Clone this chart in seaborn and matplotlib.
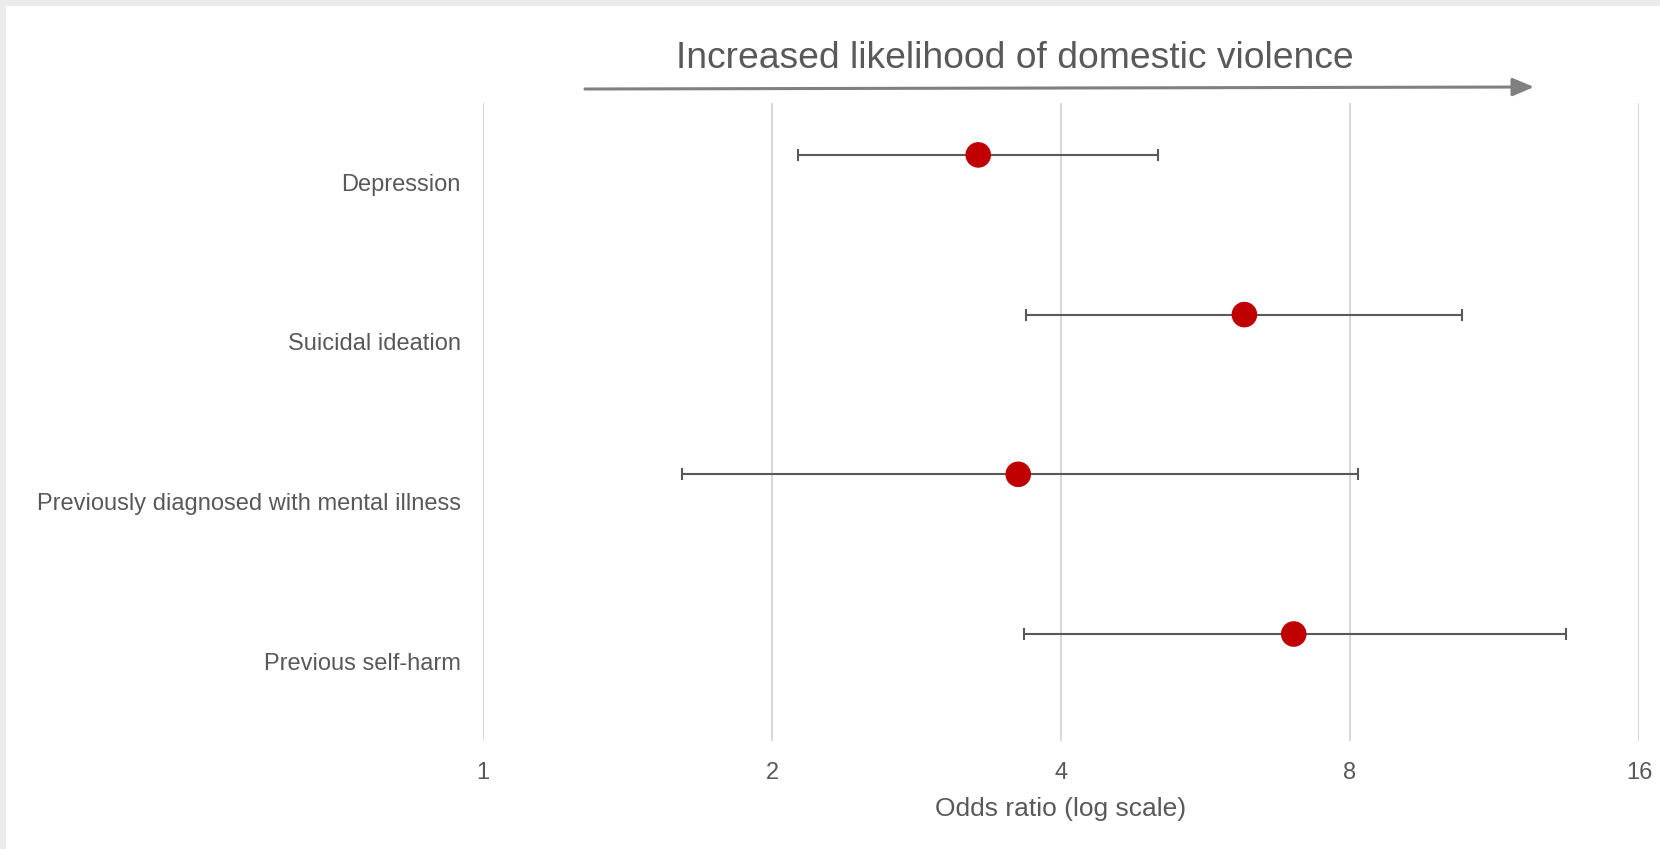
import numpy as np
import pandas as pd
import matplotlib
matplotlib.use("Agg")
import matplotlib.pyplot as plt
from matplotlib.patches import Rectangle
import seaborn as sns

# Dados
categories = ["Depression", "Suicidal ideation",
              "Previously diagnosed with mental illness", "Previous self-harm"]
odds_ratio = [3.28, 6.21, 3.61, 6.99]
ci_lower = [2.13, 3.68, 1.61, 3.66]
ci_upper = [5.05, 10.47, 8.16, 13.43]
x_ticks = [1, 2, 4, 8, 16]

df = pd.DataFrame({"category": categories, "or": odds_ratio,
                   "lo": ci_lower, "hi": ci_upper})
df["pos"] = np.arange(len(df))

sns.set_theme(style="white")
plt.rcParams["font.family"] = ["Liberation Sans", "DejaVu Sans"]
text_col = "#595959"

fig = plt.figure(figsize=(16.6, 8.49), dpi=100, facecolor="#ebebeb")
fig.patches.append(Rectangle((6 / 1660, 0), 1, 1 - 6 / 849, transform=fig.transFigure,
                             facecolor="white", edgecolor="none", zorder=-10))
ax = fig.add_axes([483 / 1660, 1 - 741 / 849, (1639 - 483) / 1660, (741 - 103) / 849])
ax.set_zorder(2)
ax.set_facecolor("none")

# barras de erro
ax.errorbar(df["or"], df["pos"],
            xerr=[df["or"] - df["lo"], df["hi"] - df["or"]],
            fmt="none", ecolor="#595959", elinewidth=1.5, capsize=4, capthick=1.5, zorder=2)
sns.scatterplot(data=df, x="or", y="pos", s=340, color="#c00000",
                edgecolor="none", ax=ax, zorder=3, legend=False)

ax.set_xscale("log", base=2)
ax.set_xlim(1, 16)
ax.set_xticks(x_ticks)
ax.set_xticklabels([str(t) for t in x_ticks])
ax.xaxis.set_minor_locator(matplotlib.ticker.NullLocator())
ax.set_ylim(3.67, -0.325)
ax.set_yticks(df["pos"] + 0.17)
ax.set_yticklabels(df["category"])
ax.grid(axis="x", color="#d9d9d9", linewidth=1.5)
ax.grid(axis="y", visible=False)
for s in ax.spines.values():
    s.set_visible(False)
ax.tick_params(axis="x", length=0, pad=15, labelsize=17, labelcolor=text_col)
ax.tick_params(axis="y", length=0, pad=16, labelsize=17, labelcolor=text_col)
ax.set_xlabel("Odds ratio (log scale)", fontsize=19, color=text_col, labelpad=9.5)
ax.set_ylabel("")

# seta e título
fig.text(1015 / 1660, 1 - 59 / 849, "Increased likelihood of domestic violence",
         ha="center", va="center", fontsize=26.8, color=text_col, zorder=5)
fig.add_artist(matplotlib.patches.FancyArrowPatch(
    (585 / 1660, 1 - 89 / 849), (1534 / 1660, 1 - 87 / 849), transform=fig.transFigure,
    arrowstyle="-|>,head_length=13,head_width=5.5", mutation_scale=1,
    color="#808080", lw=2.2, shrinkA=0, shrinkB=0, zorder=5))

fig.savefig("out.png", dpi=100, facecolor=fig.get_facecolor())
